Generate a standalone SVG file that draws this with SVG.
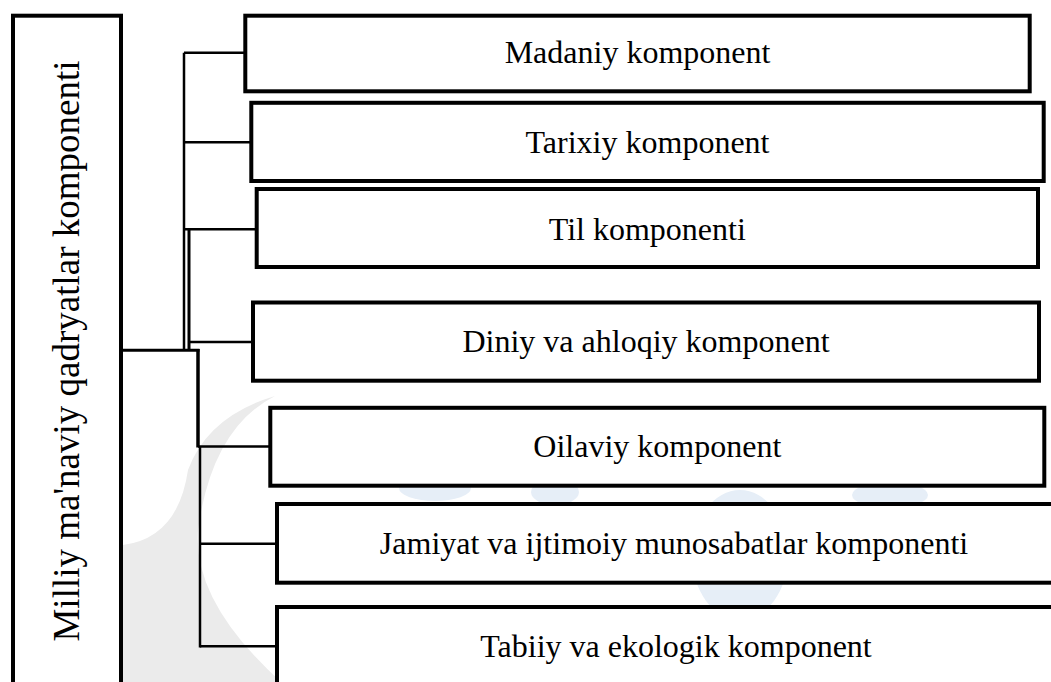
<svg xmlns="http://www.w3.org/2000/svg" width="1051" height="682" viewBox="0 0 1051 682">
  <style>
    .box { fill: #ffffff; stroke: #000000; stroke-width: 4; }
    .lbl { font-family: "Liberation Serif", "Times New Roman", serif; font-size: 32px; fill: #000000; text-anchor: middle; }
    .title { font-family: "Liberation Serif", "Times New Roman", serif; font-size: 37px; fill: #000000; text-anchor: middle; }
    .con { stroke: #000000; stroke-width: 2.5; fill: none; }
    .wm-gray { fill: #ebebeb; }
    .wm-blue { fill: #e6eef7; }
  </style>
  <rect x="0" y="0" width="1051" height="682" fill="#ffffff"/>
  <g id="watermark">
    <path class="wm-gray" d="M 275 396 Q 212 428 198 530 Q 192 605 290 690 L 123 690 L 123 545 Q 178 538 188 470 Q 208 416 275 396 Z"/>
    <ellipse class="wm-blue" cx="740" cy="555" rx="48" ry="65"/>
    <ellipse class="wm-blue" cx="555" cy="492" rx="24" ry="13"/>
    <ellipse class="wm-blue" cx="890" cy="495" rx="38" ry="13"/>
    <ellipse class="wm-blue" cx="435" cy="488" rx="36" ry="13"/>
  </g>
  <g id="connectors">
    <line class="con" x1="184" y1="52.7" x2="184" y2="351"/>
    <line class="con" x1="184" y1="52.7" x2="245" y2="52.7"/>
    <line class="con" x1="184" y1="142.3" x2="251" y2="142.3"/>
    <line class="con" x1="184" y1="229.3" x2="257" y2="229.3"/>
    <line class="con" x1="189" y1="229.3" x2="189" y2="351" style="stroke-width:3"/>
    <line class="con" x1="189" y1="342" x2="253" y2="342"/>
    <line class="con" x1="121" y1="350.3" x2="199.5" y2="350.3" style="stroke-width:3"/>
    <line class="con" x1="198" y1="349" x2="198" y2="447.5" style="stroke-width:3.5"/>
    <line class="con" x1="200" y1="446" x2="200" y2="647.5"/>
    <line class="con" x1="198" y1="446.5" x2="270" y2="446.5"/>
    <line class="con" x1="200" y1="543.7" x2="277" y2="543.7"/>
    <line class="con" x1="200" y1="646.3" x2="277" y2="646.3"/>
  </g>
  <g id="root">
    <rect class="box" x="13" y="15.7" width="108" height="700"/>
    <text class="title" transform="translate(78.5,351) rotate(-90)">Milliy ma'naviy qadryatlar komponenti</text>
  </g>
  <g id="n1">
    <rect class="box" x="245.3" y="15.7" width="784.4" height="75.6"/>
    <text class="lbl" x="637.5" y="63">Madaniy komponent</text>
  </g>
  <g id="n2">
    <rect class="box" x="251.3" y="102.8" width="792.4" height="78.2"/>
    <text class="lbl" x="647.5" y="152.5">Tarixiy komponent</text>
  </g>
  <g id="n3">
    <rect class="box" x="256.7" y="189" width="781.3" height="78"/>
    <text class="lbl" x="647.3" y="239.5">Til komponenti</text>
  </g>
  <g id="n4">
    <rect class="box" x="253" y="302.5" width="786" height="78.2"/>
    <text class="lbl" x="646" y="352">Diniy va ahloqiy komponent</text>
  </g>
  <g id="n5">
    <rect class="box" x="270.3" y="407.8" width="774" height="77.9"/>
    <text class="lbl" x="657.3" y="456.5">Oilaviy komponent</text>
  </g>
  <g id="n6">
    <rect class="box" x="277" y="504" width="800" height="78.7"/>
    <text class="lbl" x="674" y="553.5">Jamiyat va ijtimoiy munosabatlar komponenti</text>
  </g>
  <g id="n7">
    <rect class="box" x="277" y="607" width="800" height="100"/>
    <text class="lbl" x="676" y="656.5">Tabiiy va ekologik komponent</text>
  </g>
</svg>
